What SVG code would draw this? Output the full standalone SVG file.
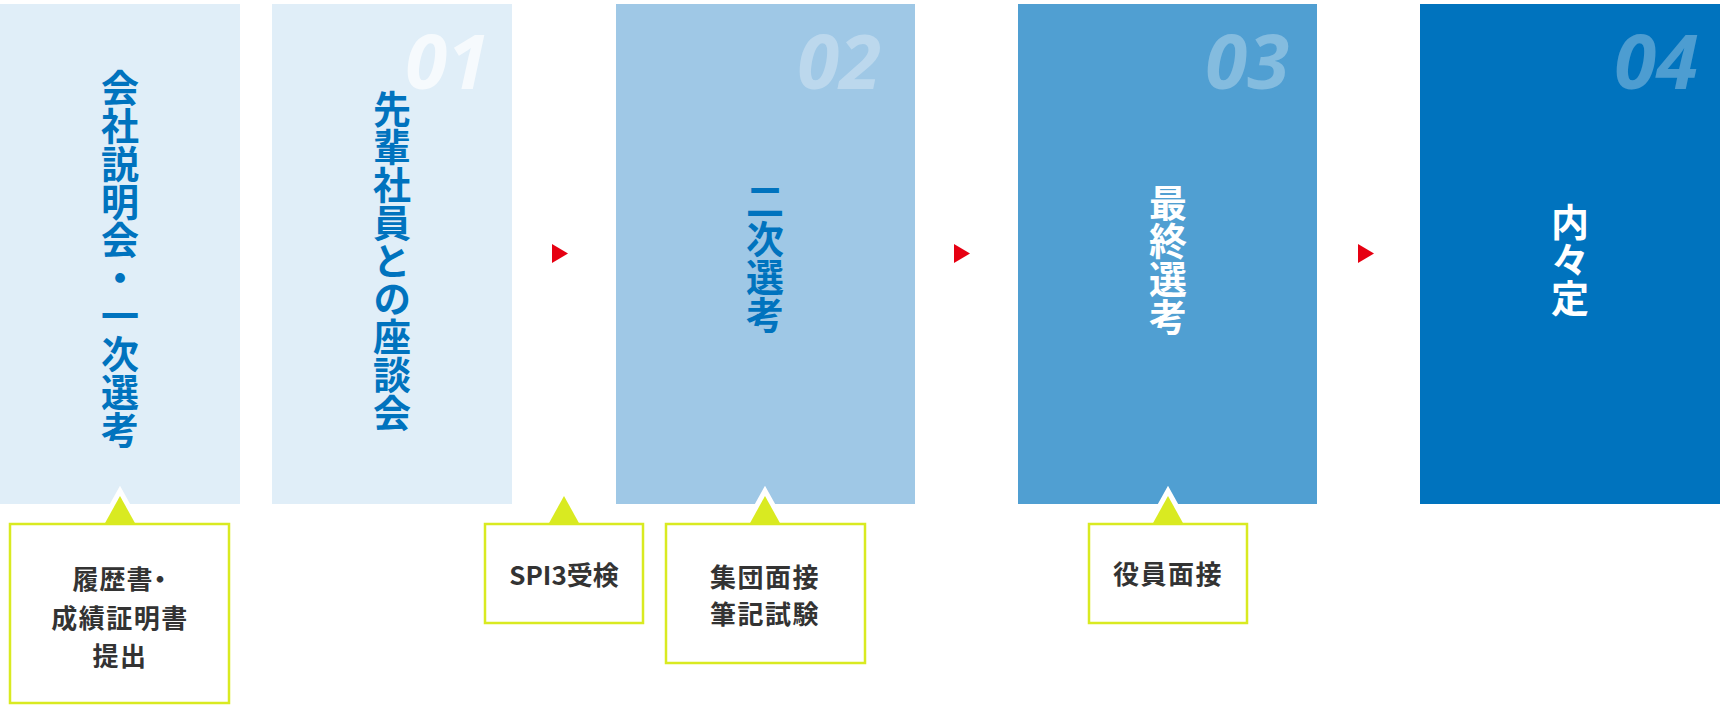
<svg xmlns="http://www.w3.org/2000/svg" width="1720" height="710" viewBox="0 0 1720 710">
<style>
.panel-title{font-family:"Noto Sans CJK JP","Noto Sans",sans-serif;font-weight:700;font-size:38px;writing-mode:vertical-rl;text-anchor:middle;}
.blue{fill:#0073be;}
.white{fill:#ffffff;}
.num{font-family:"Open Sans","Liberation Sans",sans-serif;font-weight:700;font-style:italic;font-size:76px;text-anchor:end;fill:#ffffff;}
.note{fill:#ffffff;stroke:#d9ea21;stroke-width:2.5;}
.tip{fill:#d9ea21;stroke:#ffffff;stroke-width:10;paint-order:stroke;stroke-linejoin:miter;}
.note-text{font-family:"Noto Sans CJK JP","Noto Sans",sans-serif;font-weight:700;font-size:26px;fill:#333333;text-anchor:middle;letter-spacing:1.5px;}
.palt{font-feature-settings:"palt";letter-spacing:1px;}
.tight{letter-spacing:0;}
.arrow{fill:#e60012;}
</style>
<g id="step0">
<rect x="0" y="4" width="240" height="500" fill="#e0eef8"/>
<text class="panel-title blue" x="120" y="259">会社説明会・一次選考</text>
</g>
<g id="step1">
<rect x="272" y="4" width="240" height="500" fill="#e0eef8"/>
<text class="num" x="489" y="89" fill-opacity="0.7">01</text>
<text class="panel-title blue" x="392" y="261">先輩社員との座談会</text>
</g>
<g id="step2">
<rect x="616" y="4" width="299" height="500" fill="#9fc8e6"/>
<text class="num" x="881" y="89" fill-opacity="0.3">02</text>
<text class="panel-title blue" x="765" y="258">二次選考</text>
</g>
<g id="step3">
<rect x="1018" y="4" width="299" height="500" fill="#509fd2"/>
<text class="num" x="1289" y="89" fill-opacity="0.3">03</text>
<text class="panel-title white" x="1168" y="260">最終選考</text>
</g>
<g id="step4">
<rect x="1420" y="4" width="300" height="500" fill="#0073be"/>
<text class="num" x="1698" y="89" fill-opacity="0.3">04</text>
<text class="panel-title white" x="1570" y="260">内々定</text>
</g>
<g id="connectors">
<polygon class="arrow" points="552,244 568,253.5 552,263"/>
<polygon class="arrow" points="954,244 970,253.5 954,263"/>
<polygon class="arrow" points="1358,244 1374,253.5 1358,263"/>
</g>
<g id="note0">
<polygon class="tip" points="104.5,524 120,496 135.5,524"/>
<rect class="note" x="10" y="524" width="219" height="179"/>
<text class="note-text palt" x="120" y="589">履歴書・</text>
<text class="note-text" x="120" y="628">成績証明書</text>
<text class="note-text" x="120" y="666">提出</text>
</g>
<g id="note1">
<polygon class="tip" points="548.5,524 564,496 579.5,524"/>
<rect class="note" x="485" y="524" width="158" height="99"/>
<text class="note-text tight" x="564" y="585">SPI3受検</text>
</g>
<g id="note2">
<polygon class="tip" points="749.5,524 765,496 780.5,524"/>
<rect class="note" x="666" y="524" width="199" height="139"/>
<text class="note-text" x="765" y="587">集団面接</text>
<text class="note-text" x="765" y="624">筆記試験</text>
</g>
<g id="note3">
<polygon class="tip" points="1152.5,524 1168,496 1183.5,524"/>
<rect class="note" x="1089" y="524" width="158" height="99"/>
<text class="note-text" x="1168" y="584">役員面接</text>
</g>
</svg>
